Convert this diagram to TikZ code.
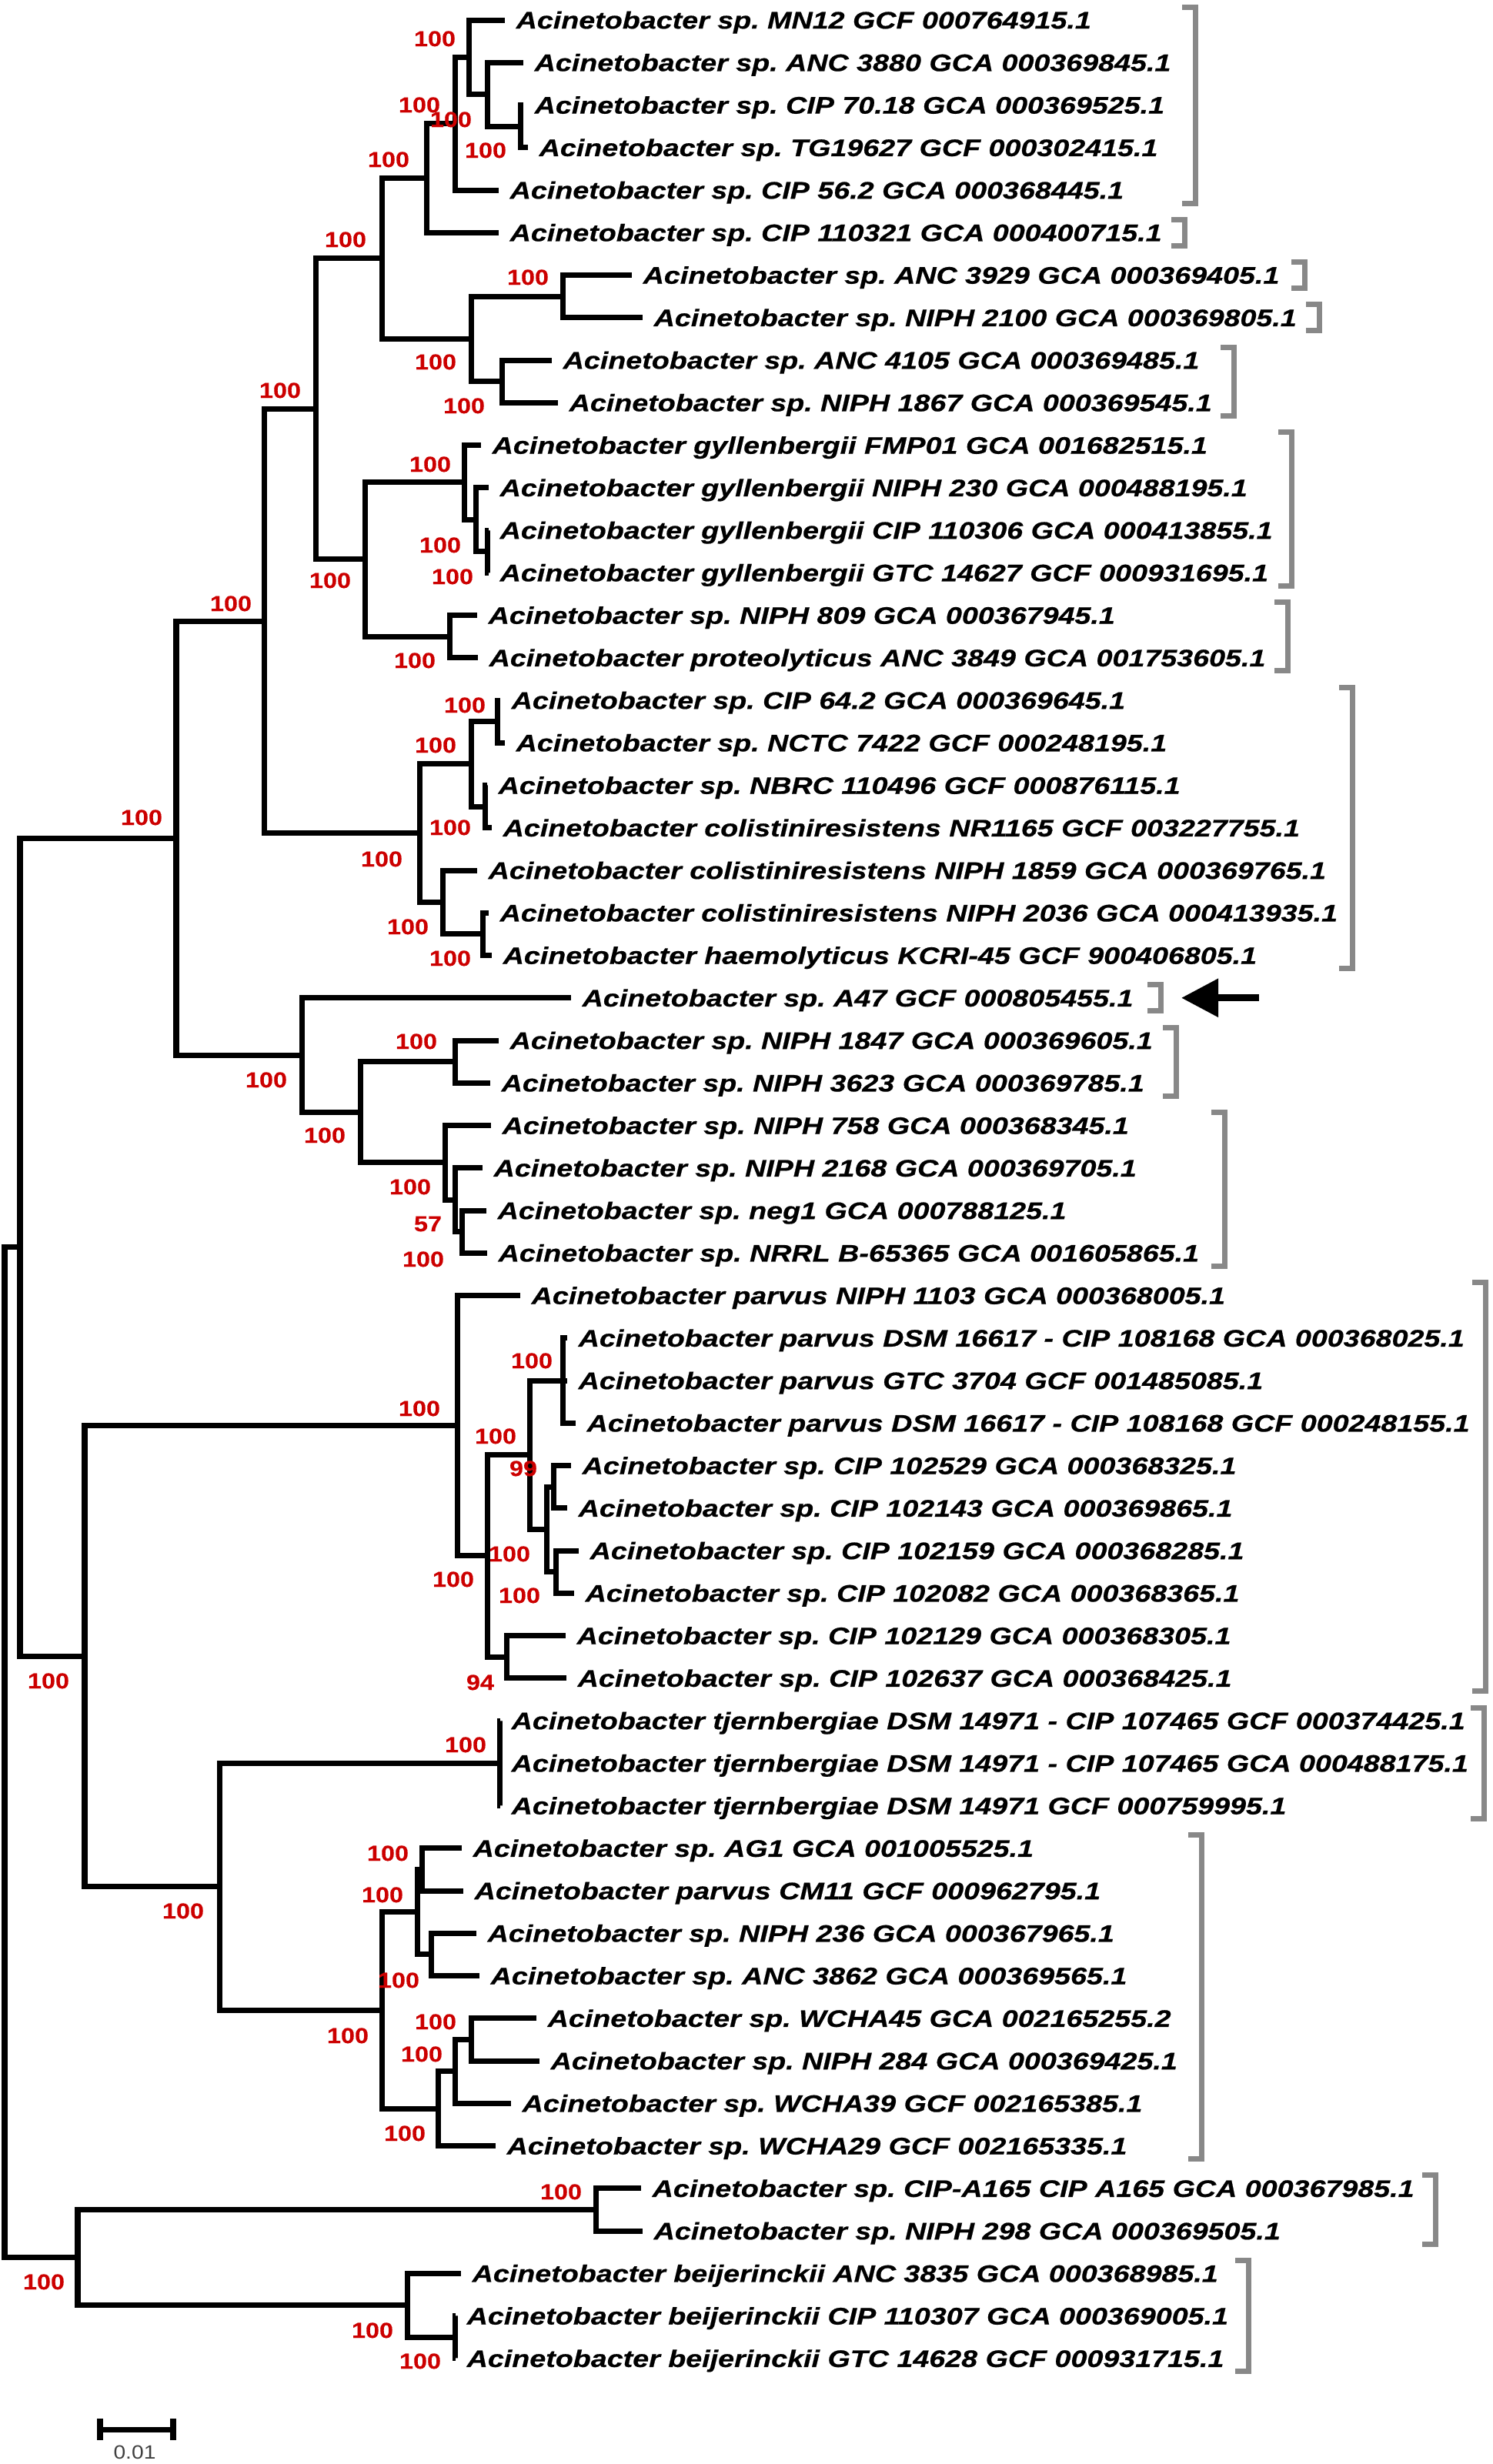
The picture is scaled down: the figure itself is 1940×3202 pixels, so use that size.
\documentclass[tikz,border=0pt]{standalone}
\usepackage{fontspec}
\usepackage{xcolor}
\usepackage{tikz}
\usetikzlibrary{arrows.meta, positioning}
\setmainfont{Liberation Sans}
\newfontfamily\leaffont[FakeStretch=1.21, FakeBold=0.6]{Liberation Sans}
\newfontfamily\bootfont[FakeStretch=1.15, FakeBold=0.4]{Liberation Sans}
\newfontfamily\barfont[FakeStretch=1.13]{Liberation Sans}
\definecolor{bootred}{RGB}{204,0,0}
\definecolor{cladegray}{RGB}{136,136,136}
\newcommand{\cladebar}[3]{\draw[clade] ({#1-17},#2) -| (#1,#3) -- ({#1-17},#3);}

\begin{document}
\begin{tikzpicture}[x=0.01cm, y=-0.01cm,
    branch/.style={line width=0.07cm},
    leaf/.style={anchor=west, inner xsep=0.14cm, inner ysep=0pt, text height=6.34pt, text depth=0pt,
      font=\leaffont\bfseries\itshape\fontsize{8.85}{10}\selectfont\frenchspacing},
    boot/.style={inner sep=0pt, text height=5.7pt, text depth=0pt, text=bootred,
      font=\bootfont\bfseries\fontsize{8}{9}\selectfont},
    clade/.style={draw=cladegray, line width=0.07cm},
    pointer/.style={line width=0.09cm, -{Triangle[length=4.8mm, width=4.8mm]}}]
    \useasboundingbox (0,0) rectangle (1940,3202);

    % Leaves
    \node[leaf] (l1) at (656,26) {Acinetobacter sp. MN12 GCF 000764915.1};
    \node[leaf] (l2) at (680,81.25) {Acinetobacter sp. ANC 3880 GCA 000369845.1};
    \node[leaf] (l3) at (680,136.5) {Acinetobacter sp. CIP 70.18 GCA 000369525.1};
    \node[leaf] (l4) at (686,191.75) {Acinetobacter sp. TG19627 GCF 000302415.1};
    \node[leaf] (l5) at (648,247) {Acinetobacter sp. CIP 56.2 GCA 000368445.1};
    \node[leaf] (l6) at (648,302.25) {Acinetobacter sp. CIP 110321 GCA 000400715.1};
    \node[leaf] (l7) at (821,357.5) {Acinetobacter sp. ANC 3929 GCA 000369405.1};
    \node[leaf] (l8) at (835,412.75) {Acinetobacter sp. NIPH 2100 GCA 000369805.1};
    \node[leaf] (l9) at (717,468) {Acinetobacter sp. ANC 4105 GCA 000369485.1};
    \node[leaf] (l10) at (725,523.25) {Acinetobacter sp. NIPH 1867 GCA 000369545.1};
    \node[leaf] (l11) at (625,578.5) {Acinetobacter gyllenbergii FMP01 GCA 001682515.1};
    \node[leaf] (l12) at (635,633.75) {Acinetobacter gyllenbergii NIPH 230 GCA 000488195.1};
    \node[leaf] (l13) at (635,689) {Acinetobacter gyllenbergii CIP 110306 GCA 000413855.1};
    \node[leaf] (l14) at (635,744.25) {Acinetobacter gyllenbergii GTC 14627 GCF 000931695.1};
    \node[leaf] (l15) at (620,799.5) {Acinetobacter sp. NIPH 809 GCA 000367945.1};
    \node[leaf] (l16) at (621,854.75) {Acinetobacter proteolyticus ANC 3849 GCA 001753605.1};
    \node[leaf] (l17) at (650,910) {Acinetobacter sp. CIP 64.2 GCA 000369645.1};
    \node[leaf] (l18) at (656,965.25) {Acinetobacter sp. NCTC 7422 GCF 000248195.1};
    \node[leaf] (l19) at (633,1020.5) {Acinetobacter sp. NBRC 110496 GCF 000876115.1};
    \node[leaf] (l20) at (639,1075.75) {Acinetobacter colistiniresistens NR1165 GCF 003227755.1};
    \node[leaf] (l21) at (620,1131) {Acinetobacter colistiniresistens NIPH 1859 GCA 000369765.1};
    \node[leaf] (l22) at (635,1186.25) {Acinetobacter colistiniresistens NIPH 2036 GCA 000413935.1};
    \node[leaf] (l23) at (639,1241.5) {Acinetobacter haemolyticus KCRI-45 GCF 900406805.1};
    \node[leaf] (l24) at (742,1296.75) {Acinetobacter sp. A47 GCF 000805455.1};
    \node[leaf] (l25) at (648,1352) {Acinetobacter sp. NIPH 1847 GCA 000369605.1};
    \node[leaf] (l26) at (637,1407.25) {Acinetobacter sp. NIPH 3623 GCA 000369785.1};
    \node[leaf] (l27) at (638,1462.5) {Acinetobacter sp. NIPH 758 GCA 000368345.1};
    \node[leaf] (l28) at (627,1517.75) {Acinetobacter sp. NIPH 2168 GCA 000369705.1};
    \node[leaf] (l29) at (632,1573) {Acinetobacter sp. neg1 GCA 000788125.1};
    \node[leaf] (l30) at (633,1628.25) {Acinetobacter sp. NRRL B-65365 GCA 001605865.1};
    \node[leaf] (l31) at (676,1683.5) {Acinetobacter parvus NIPH 1103 GCA 000368005.1};
    \node[leaf] (l32) at (737,1738.75) {Acinetobacter parvus DSM 16617 - CIP 108168 GCA 000368025.1};
    \node[leaf] (l33) at (737,1794) {Acinetobacter parvus GTC 3704 GCF 001485085.1};
    \node[leaf] (l34) at (748,1849.25) {Acinetobacter parvus DSM 16617 - CIP 108168 GCF 000248155.1};
    \node[leaf] (l35) at (742,1904.5) {Acinetobacter sp. CIP 102529 GCA 000368325.1};
    \node[leaf] (l36) at (737,1959.75) {Acinetobacter sp. CIP 102143 GCA 000369865.1};
    \node[leaf] (l37) at (752,2015) {Acinetobacter sp. CIP 102159 GCA 000368285.1};
    \node[leaf] (l38) at (746,2070.25) {Acinetobacter sp. CIP 102082 GCA 000368365.1};
    \node[leaf] (l39) at (735,2125.5) {Acinetobacter sp. CIP 102129 GCA 000368305.1};
    \node[leaf] (l40) at (736,2180.75) {Acinetobacter sp. CIP 102637 GCA 000368425.1};
    \node[leaf] (l41) at (650,2236) {Acinetobacter tjernbergiae DSM 14971 - CIP 107465 GCF 000374425.1};
    \node[leaf] (l42) at (650,2291.25) {Acinetobacter tjernbergiae DSM 14971 - CIP 107465 GCA 000488175.1};
    \node[leaf] (l43) at (650,2346.5) {Acinetobacter tjernbergiae DSM 14971 GCF 000759995.1};
    \node[leaf] (l44) at (600,2401.75) {Acinetobacter sp. AG1 GCA 001005525.1};
    \node[leaf] (l45) at (602,2457) {Acinetobacter parvus CM11 GCF 000962795.1};
    \node[leaf] (l46) at (619,2512.25) {Acinetobacter sp. NIPH 236 GCA 000367965.1};
    \node[leaf] (l47) at (623,2567.5) {Acinetobacter sp. ANC 3862 GCA 000369565.1};
    \node[leaf] (l48) at (697,2622.75) {Acinetobacter sp. WCHA45 GCA 002165255.2};
    \node[leaf] (l49) at (701,2678) {Acinetobacter sp. NIPH 284 GCA 000369425.1};
    \node[leaf] (l50) at (664,2733.25) {Acinetobacter sp. WCHA39 GCF 002165385.1};
    \node[leaf] (l51) at (644,2788.5) {Acinetobacter sp. WCHA29 GCF 002165335.1};
    \node[leaf] (l52) at (833,2843.75) {Acinetobacter sp. CIP-A165 CIP A165 GCA 000367985.1};
    \node[leaf] (l53) at (835,2899) {Acinetobacter sp. NIPH 298 GCA 000369505.1};
    \node[leaf] (l54) at (599,2954.25) {Acinetobacter beijerinckii ANC 3835 GCA 000368985.1};
    \node[leaf] (l55) at (592,3009.5) {Acinetobacter beijerinckii CIP 110307 GCA 000369005.1};
    \node[leaf] (l56) at (592,3064.75) {Acinetobacter beijerinckii GTC 14628 GCF 000931715.1};

    % Internal nodes
    \coordinate (n34) at (676,164.13);
    \coordinate (n2t4) at (633,122.69);
    \coordinate (n1t4) at (609,74.34);
    \coordinate (n1t5) at (591,160.67);
    \coordinate (n1t6) at (554,231.46);
    \coordinate (n78) at (731,385.13);
    \coordinate (n910) at (652,495.63);
    \coordinate (n7t10) at (612,440.38);
    \coordinate (n1t10) at (496,335.92);
    \coordinate (n1314) at (633,716.63);
    \coordinate (n12t14) at (618,675.19);
    \coordinate (n11t14) at (603,626.84);
    \coordinate (n1516) at (584,827.13);
    \coordinate (n11t16) at (474,726.98);
    \coordinate (n1t16) at (410,531.45);
    \coordinate (n1718) at (646,937.63);
    \coordinate (n1920) at (630,1048.13);
    \coordinate (n17t20) at (612,992.88);
    \coordinate (n2223) at (627,1213.88);
    \coordinate (n21t23) at (575,1172.44);
    \coordinate (n17t23) at (545,1082.66);
    \coordinate (n1t23) at (343,807.05);
    \coordinate (n2526) at (591,1379.63);
    \coordinate (n2930) at (600,1600.63);
    \coordinate (n28t30) at (591,1559.19);
    \coordinate (n27t30) at (578,1510.84);
    \coordinate (n25t30) at (468,1445.23);
    \coordinate (n24t30) at (392,1370.99);
    \coordinate (n1t30) at (229,1089.02);
    \coordinate (n32t34) at (731,1794);
    \coordinate (n3536) at (719,1932.13);
    \coordinate (n3738) at (722,2042.63);
    \coordinate (n35t38) at (710,1987.38);
    \coordinate (n32t38) at (688,1890.69);
    \coordinate (n3940) at (658,2153.13);
    \coordinate (n32t40) at (633,2021.91);
    \coordinate (n31t40) at (594,1852.70);
    \coordinate (n41t43) at (649,2291.25);
    \coordinate (n4445) at (548,2429.38);
    \coordinate (n4647) at (560,2539.88);
    \coordinate (n44t47) at (542,2484.63);
    \coordinate (n4849) at (612,2650.38);
    \coordinate (n48t50) at (591,2691.81);
    \coordinate (n48t51) at (569,2740.16);
    \coordinate (n44t51) at (496,2612.39);
    \coordinate (n41t51) at (285,2451.82);
    \coordinate (n31t51) at (110,2152.26);
    \coordinate (n1t51) at (26,1620.64);
    \coordinate (n5253) at (774,2871.38);
    \coordinate (n5556) at (591,3037.13);
    \coordinate (n54t56) at (529,2995.69);
    \coordinate (n52t56) at (101,2933.53);
    \coordinate (root) at (6,2277.09);

    % Branches
    \draw[branch] (n34) |- (l3.west) (n34) |- (l4.west);
    \draw[branch] (n2t4) |- (l2.west) (n2t4) |- (n34);
    \draw[branch] (n1t4) |- (l1.west) (n1t4) |- (n2t4);
    \draw[branch] (n1t5) |- (n1t4) (n1t5) |- (l5.west);
    \draw[branch] (n1t6) |- (n1t5) (n1t6) |- (l6.west);
    \draw[branch] (n78) |- (l7.west) (n78) |- (l8.west);
    \draw[branch] (n910) |- (l9.west) (n910) |- (l10.west);
    \draw[branch] (n7t10) |- (n78) (n7t10) |- (n910);
    \draw[branch] (n1t10) |- (n1t6) (n1t10) |- (n7t10);
    \draw[branch] (n1314) |- (l13.west) (n1314) |- (l14.west);
    \draw[branch] (n12t14) |- (l12.west) (n12t14) |- (n1314);
    \draw[branch] (n11t14) |- (l11.west) (n11t14) |- (n12t14);
    \draw[branch] (n1516) |- (l15.west) (n1516) |- (l16.west);
    \draw[branch] (n11t16) |- (n11t14) (n11t16) |- (n1516);
    \draw[branch] (n1t16) |- (n1t10) (n1t16) |- (n11t16);
    \draw[branch] (n1718) |- (l17.west) (n1718) |- (l18.west);
    \draw[branch] (n1920) |- (l19.west) (n1920) |- (l20.west);
    \draw[branch] (n17t20) |- (n1718) (n17t20) |- (n1920);
    \draw[branch] (n2223) |- (l22.west) (n2223) |- (l23.west);
    \draw[branch] (n21t23) |- (l21.west) (n21t23) |- (n2223);
    \draw[branch] (n17t23) |- (n17t20) (n17t23) |- (n21t23);
    \draw[branch] (n1t23) |- (n1t16) (n1t23) |- (n17t23);
    \draw[branch] (n2526) |- (l25.west) (n2526) |- (l26.west);
    \draw[branch] (n2930) |- (l29.west) (n2930) |- (l30.west);
    \draw[branch] (n28t30) |- (l28.west) (n28t30) |- (n2930);
    \draw[branch] (n27t30) |- (l27.west) (n27t30) |- (n28t30);
    \draw[branch] (n25t30) |- (n2526) (n25t30) |- (n27t30);
    \draw[branch] (n24t30) |- (l24.west) (n24t30) |- (n25t30);
    \draw[branch] (n1t30) |- (n1t23) (n1t30) |- (n24t30);
    \draw[branch] (n32t34) |- (l32.west) (n32t34) -- (l33.west) (n32t34) |- (l34.west);
    \draw[branch] (n3536) |- (l35.west) (n3536) |- (l36.west);
    \draw[branch] (n3738) |- (l37.west) (n3738) |- (l38.west);
    \draw[branch] (n35t38) |- (n3536) (n35t38) |- (n3738);
    \draw[branch] (n32t38) |- (n32t34) (n32t38) |- (n35t38);
    \draw[branch] (n3940) |- (l39.west) (n3940) |- (l40.west);
    \draw[branch] (n32t40) |- (n32t38) (n32t40) |- (n3940);
    \draw[branch] (n31t40) |- (l31.west) (n31t40) |- (n32t40);
    \draw[branch] (n41t43) |- (l41.west) (n41t43) -- (l42.west) (n41t43) |- (l43.west);
    \draw[branch] (n4445) |- (l44.west) (n4445) |- (l45.west);
    \draw[branch] (n4647) |- (l46.west) (n4647) |- (l47.west);
    \draw[branch] (n44t47) |- (n4445) (n44t47) |- (n4647);
    \draw[branch] (n4849) |- (l48.west) (n4849) |- (l49.west);
    \draw[branch] (n48t50) |- (n4849) (n48t50) |- (l50.west);
    \draw[branch] (n48t51) |- (n48t50) (n48t51) |- (l51.west);
    \draw[branch] (n44t51) |- (n44t47) (n44t51) |- (n48t51);
    \draw[branch] (n41t51) |- (n41t43) (n41t51) |- (n44t51);
    \draw[branch] (n31t51) |- (n31t40) (n31t51) |- (n41t51);
    \draw[branch] (n1t51) |- (n1t30) (n1t51) |- (n31t51);
    \draw[branch] (n5253) |- (l52.west) (n5253) |- (l53.west);
    \draw[branch] (n5556) |- (l55.west) (n5556) |- (l56.west);
    \draw[branch] (n54t56) |- (l54.west) (n54t56) |- (n5556);
    \draw[branch] (n52t56) |- (n5253) (n52t56) |- (n54t56);
    \draw[branch] (root) |- (n1t51) (root) |- (n52t56);

    % Bootstrap values
    \node[boot] (b1t4) at (565,50) {100};
    \node[boot] (b1t5) at (545,136) {100};
    \node[boot] (b2t4) at (586,155) {100};
    \node[boot] (b34) at (631,195) {100};
    \node[boot] (b1t6) at (505,207) {100};
    \node[boot] (b1t10) at (449,311) {100};
    \node[boot] (b78) at (686,360) {100};
    \node[boot] (b7t10) at (566,470) {100};
    \node[boot] (b1t16) at (364,507) {100};
    \node[boot] (b910) at (603,527) {100};
    \node[boot] (b11t14) at (559,603) {100};
    \node[boot] (b12t14) at (572,708) {100};
    \node[boot] (b1314) at (588,749) {100};
    \node[boot] (b11t16) at (429,754) {100};
    \node[boot] (b1t23) at (300,784) {100};
    \node[boot] (b1516) at (539,858) {100};
    \node[boot] (b1718) at (604,916) {100};
    \node[boot] (b17t20) at (566,968) {100};
    \node[boot] (b1t30) at (184,1062) {100};
    \node[boot] (b1920) at (585,1075) {100};
    \node[boot] (b17t23) at (496,1116) {100};
    \node[boot] (b21t23) at (530,1204) {100};
    \node[boot] (b2223) at (585,1245) {100};
    \node[boot] (b2526) at (541,1353) {100};
    \node[boot] (b24t30) at (346,1403) {100};
    \node[boot] (b25t30) at (422,1475) {100};
    \node[boot] (b27t30) at (533,1542) {100};
    \node[boot] (b28t30) at (556,1590) {57};
    \node[boot] (b2930) at (550,1636) {100};
    \node[boot] (b32t34) at (691,1768) {100};
    \node[boot] (b31t40) at (545,1830) {100};
    \node[boot] (b32t38) at (644,1866) {100};
    \node[boot] (b3536) at (680,1908) {99};
    \node[boot] (b35t38) at (662,2019) {100};
    \node[boot] (b32t40) at (589,2052) {100};
    \node[boot] (b3738) at (675,2073) {100};
    \node[boot] (b31t51) at (63,2184) {100};
    \node[boot] (b3940) at (624,2186) {94};
    \node[boot] (b41t43) at (605,2267) {100};
    \node[boot] (b4445) at (504,2408) {100};
    \node[boot] (b44t47) at (497,2462) {100};
    \node[boot] (b41t51) at (238,2483) {100};
    \node[boot] (b4647) at (518,2573) {100};
    \node[boot] (b4849) at (566,2627) {100};
    \node[boot] (b44t51) at (452,2645) {100};
    \node[boot] (b48t50) at (548,2669) {100};
    \node[boot] (b48t51) at (526,2772) {100};
    \node[boot] (b5253) at (729,2848) {100};
    \node[boot] (b52t56) at (57,2965) {100};
    \node[boot] (b54t56) at (484,3028) {100};
    \node[boot] (b5556) at (546,3068) {100};

    % Clade brackets
    \cladebar{1553}{9}{264}
    \cladebar{1539}{285.25}{319.25}
    \cladebar{1695}{340.5}{374.5}
    \cladebar{1714}{395.75}{429.75}
    \cladebar{1603}{451}{540.25}
    \cladebar{1678}{561.5}{761.25}
    \cladebar{1673}{782.5}{871.75}
    \cladebar{1757}{893}{1258.5}
    \cladebar{1508}{1279.75}{1313.75}
    \cladebar{1528}{1335}{1424.25}
    \cladebar{1591}{1445.5}{1645.25}
    \cladebar{1930}{1666.5}{2197.75}
    \cladebar{1928}{2219}{2363.5}
    \cladebar{1561}{2384.75}{2805.5}
    \cladebar{1865}{2826.75}{2916}
    \cladebar{1622}{2937.25}{3081.75}

    % Arrow to A47
    \coordinate (arrowtail) at (1636,1296.75);
    \coordinate (arrowtip) at (1535,1296.75);
    \draw[pointer] (arrowtail) -- (arrowtip);

    % Scale bar
    \coordinate (sbleft) at (130,3157);
    \coordinate (sbright) at (225,3157);
    \draw[branch] (sbleft) -- (sbright);
    \draw[branch] ([yshift=0.14cm]sbleft) -- ([yshift=-0.14cm]sbleft);
    \draw[branch] ([yshift=0.14cm]sbright) -- ([yshift=-0.14cm]sbright);
    \node[inner sep=0pt, text height=5.1pt, text depth=0pt, text=black!75,
      font=\barfont\fontsize{7.1}{8}\selectfont] (sblabel) at (175,3186) {0.01};
\end{tikzpicture}
\end{document}
